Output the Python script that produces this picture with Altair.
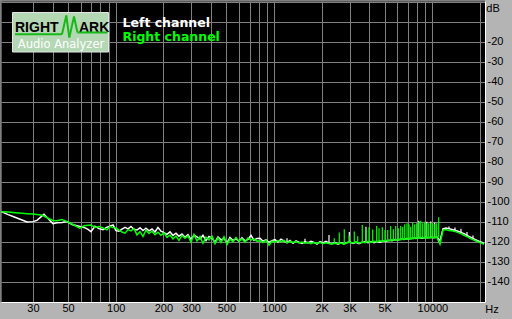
import altair as alt
import pandas as pd

# ---------------- data ----------------
freq_hz = [
    18.9, 20.9, 23.1, 25.6, 27.5, 30.0, 31.8, 33.7, 35.2, 37.3,
    40.1, 42.5, 45.7, 49.2, 52.9, 56.1, 59.4, 63.0, 66.8, 69.7,
    73.9, 78.3, 83.1, 88.0, 91.9, 96.1, 100.3, 104.8, 109.5, 114.4,
    119.5, 124.8, 130.4, 136.2, 142.3, 148.6, 155.2, 162.2, 169.4, 176.9,
    184.8, 193.1, 201.7, 210.7, 220.1, 229.9, 240.1, 250.8, 262.0, 273.7,
    285.9, 298.7, 312.0, 325.9, 340.5, 355.6, 371.5, 388.1, 405.4, 423.5,
    442.3, 462.1, 482.7, 504.2, 526.7, 550.2, 574.7, 600.3, 627.1, 655.1,
    684.3, 714.8, 746.7, 780.0, 814.8, 851.1, 889.1, 928.7, 970.2, 1013,
    1059, 1106, 1155, 1207, 1261, 1317, 1376, 1437, 1501, 1568,
    1638, 1711, 1787, 1867, 1950, 2037, 2128, 2223, 2322, 2426,
    2534, 2647, 2765, 2888, 3017, 3151, 3292, 3439, 3592, 3752,
    3920, 4095, 4277, 4468, 4667, 4875, 5093, 5320, 5557, 5805,
    6064, 6334, 6617, 6912, 7220, 7542, 7879, 8230, 8597, 8980,
    9381, 9799, 10236, 10693, 11169, 11668, 12188, 12732, 13299, 13893,
    14512, 15160, 15836, 16542, 17280, 18050, 18855, 19696, 20575, 21177,
]

left_db = [
    -105.0, -106.5, -107.8, -109.2, -110.2, -110.0, -109.4, -107.6, -106.3, -108.4,
    -111.0, -110.6, -110.4, -110.0, -111.4, -111.9, -112.4, -112.9, -113.9, -115.0,
    -112.3, -113.5, -114.0, -112.8, -112.3, -111.7, -114.5, -114.8, -113.8, -112.9,
    -113.6, -112.4, -113.9, -114.2, -113.1, -114.5, -113.3, -114.6, -113.7, -115.2,
    -112.9, -114.8, -115.5, -116.4, -115.1, -116.9, -115.8, -117.3, -116.2, -117.8,
    -116.5, -118.9, -116.8, -117.6, -118.7, -116.9, -119.5, -117.4, -118.2, -120.3,
    -117.7, -119.1, -118.3, -120.6, -117.9, -119.4, -118.6, -119.8, -118.1, -119.6,
    -118.9, -116.9, -119.3, -118.4, -118.3, -119.8, -119.1, -120.4, -119.5, -119.0,
    -120.2, -118.8, -119.7, -120.5, -119.4, -120.8, -119.6, -120.3, -120.9, -120.1,
    -120.6, -119.8, -120.4, -121.2, -120.0, -120.7, -119.9, -120.8, -121.0, -120.5,
    -121.3, -120.6, -121.1, -120.4, -120.2, -120.9, -120.3, -121.0, -120.4, -120.1,
    -120.6, -120.0, -120.5, -119.9, -120.3, -119.7, -119.9, -119.3, -119.6, -119.0,
    -119.2, -118.7, -118.9, -118.4, -118.6, -118.2, -118.4, -118.0, -118.3, -117.9,
    -118.1, -117.8, -118.0, -117.7, -119.5, -113.6, -113.2, -113.5, -113.9, -114.3,
    -114.8, -115.4, -116.0, -116.9, -117.6, -118.4, -119.1, -119.8, -120.4, -121.0,
]

right_db = [
    -105.0, -105.2, -105.5, -105.8, -106.0, -106.2, -106.4, -106.7, -107.2, -108.3,
    -109.4, -109.6, -108.9, -110.0, -111.2, -112.3, -113.3, -112.1, -111.8, -111.7,
    -112.9, -112.4, -113.2, -114.1, -112.5, -113.0, -113.2, -114.3, -115.2, -115.8,
    -114.0, -114.6, -113.5, -116.6, -115.0, -117.4, -114.3, -115.9, -114.8, -116.5,
    -115.3, -116.8, -115.6, -117.9, -116.7, -118.6, -117.2, -119.4, -116.9, -118.3,
    -117.1, -120.2, -116.4, -119.7, -117.5, -120.8, -117.8, -119.1, -117.3, -121.0,
    -118.1, -120.4, -117.6, -121.5, -118.7, -120.1, -117.9, -119.9, -118.6, -120.3,
    -118.2, -119.2, -118.7, -119.8, -119.6, -120.5, -119.3, -121.8, -119.8, -120.3,
    -119.5, -120.1, -119.4, -120.6, -119.9, -120.4, -120.0, -120.7, -120.2, -120.8,
    -120.3, -121.0, -120.5, -120.9, -120.4, -121.1, -120.6, -120.9, -121.2, -120.8,
    -121.0, -120.7, -121.3, -120.6, -120.3, -120.7, -120.1, -120.8, -120.2, -120.5,
    -119.9, -120.4, -119.8, -120.1, -119.6, -119.9, -119.4, -119.6, -119.1, -119.3,
    -118.9, -119.0, -118.6, -118.8, -118.4, -118.5, -118.1, -118.3, -118.0, -118.2,
    -117.9, -118.1, -117.8, -118.0, -121.3, -114.3, -114.0, -114.4, -114.6, -114.9,
    -115.5, -116.0, -116.8, -117.5, -118.3, -119.0, -119.7, -120.3, -120.9, -121.4,
]

# narrow spectral spikes (green = right channel)
right_spike_hz = [
    2402, 2582, 2777, 2987, 3212, 3375, 3609, 3807, 3978, 4197,
    4449, 4602, 4827, 5019, 5223, 5454, 5667, 5868, 6093, 6309,
    6495, 6687, 6915, 7119, 7296, 7512, 7734, 7962, 8199, 8442,
    8688, 8943, 9210, 9480, 9759, 10047, 10344, 10647, 10962,
]
right_spike_top = [
    -118.3, -115.5, -113.8, -117.0, -115.0, -117.3, -111.7, -113.8, -112.8, -114.0,
    -112.2, -113.3, -112.8, -114.2, -114.2, -112.2, -113.8, -112.2, -113.3, -112.2,
    -112.5, -111.3, -110.8, -111.3, -112.5, -110.5, -111.3, -110.8, -110.0, -109.5,
    -110.8, -110.0, -110.8, -110.8, -110.5, -110.8, -111.3, -110.8, -107.8,
]
right_spike_base = [
    -120.8, -121.0, -121.3, -120.6, -120.7, -120.5, -120.2, -120.5, -120.0, -120.3,
    -120.1, -119.8, -119.9, -119.6, -119.5, -119.3, -119.2, -119.3, -119.0, -118.9,
    -118.8, -118.7, -118.7, -118.5, -118.4, -118.4, -118.2, -118.2, -118.2, -118.1,
    -118.0, -118.1, -117.9, -117.9, -118.0, -117.9, -117.8, -117.9, -118.0,
]

# white (left channel) spike tips
left_spike_hz = [1207, 1568, 2223, 2987, 3807, 8199, 9210, 9759, 10344,
                 12732, 13893, 15160, 16542, 18050]
left_spike_top = [-118.3, -118.6, -116.7, -115.2, -112.6, -109.6, -110.0, -109.9, -110.4,
                  -112.4, -112.9, -113.6, -115.2, -117.0]
left_spike_base = [-120.5, -120.5, -120.8, -120.5, -120.5, -118.2, -117.9, -118.0, -117.8,
                   -113.5, -114.3, -115.4, -116.9, -118.4]

grid_hz = [30, 40, 50, 60, 70, 80, 90, 100, 200, 300, 400, 500, 600, 700, 800, 900,
           1000, 2000, 3000, 4000, 5000, 6000, 7000, 8000, 9000, 10000, 20000]
grid_db = [0, -10, -20, -30, -40, -50, -60, -70, -80, -90, -100, -110, -120, -130, -140]

legend_names = ["Left channel", "Right channel"]

# ---------------- styling ----------------
BG = "#b4b4b4"
GRID = "#808080"
GREEN = "#00ff00"

x_scale = alt.Scale(type="log", domain=[18.84, 21500], nice=False)
y_scale = alt.Scale(domain=[-150.2, 0.35], nice=False, zero=False)

x_axis = alt.Axis(
    values=grid_hz, format="d",
    labelExpr="datum.value == 2000 ? '2K' : datum.value == 3000 ? '3K' : datum.value == 5000 ? '5K' : "
              "(indexof([30, 50, 100, 200, 300, 500, 1000, 10000], datum.value) >= 0 ? '' + datum.value : '')",
    grid=True, gridColor=GRID, gridOpacity=1, gridWidth=1,
    ticks=False, tickSize=0, domain=True, domainColor="white", domainWidth=1,
    labelColor="black", labelFont="Liberation Sans", labelFontSize=11,
    labelBaseline="middle", labelPadding=6.5, labelFlush=False, labelOverlap=False,
    title="Hz", titleFont="Liberation Sans", titleFontSize=11, titleFontWeight="normal",
    titleColor="black", titleX=490.5, titleY=7, titleAlign="center", titleBaseline="middle",
)
y_axis = alt.Axis(
    orient="right", values=grid_db,
    labelExpr="datum.value <= -20 ? '-' + (-datum.value) : ''",
    grid=True, gridColor=GRID, gridOpacity=1, gridWidth=1,
    ticks=False, tickSize=0, domain=True, domainColor="white", domainWidth=1,
    labelColor="black", labelFont="Liberation Sans", labelFontSize=11,
    labelPadding=2, labelFlush=False, labelOverlap=False, labelAlign="left",
    title="dB", titleFont="Liberation Sans", titleFontSize=11, titleFontWeight="normal",
    titleColor="black", titleAngle=0, titleX=7.5, titleY=7, titleAlign="center",
    titleBaseline="middle",
)

df = pd.DataFrame({"freq": freq_hz, "left": left_db, "right": right_db})
rs = pd.DataFrame({"freq": right_spike_hz, "top": right_spike_top, "base": right_spike_base})
ls = pd.DataFrame({"freq": left_spike_hz, "top": left_spike_top, "base": left_spike_base})


def xenc():
    return alt.X("freq:Q", scale=x_scale, axis=x_axis)


def yenc(field):
    return alt.Y(field + ":Q", scale=y_scale, axis=y_axis)


left_line = alt.Chart(df).mark_line(color="white", strokeWidth=1.5, clip=True).encode(
    x=xenc(), y=yenc("left"))
left_spikes = alt.Chart(ls).mark_rule(color="white", strokeWidth=1.2, clip=True).encode(
    x=xenc(), y=yenc("top"), y2="base:Q")
right_line = alt.Chart(df).mark_line(color=GREEN, strokeWidth=1.5, clip=True).encode(
    x=xenc(), y=yenc("right"))
right_spikes = alt.Chart(rs).mark_rule(color=GREEN, strokeWidth=1.2, clip=True).encode(
    x=xenc(), y=yenc("top"), y2="base:Q")

# ---------------- decorations (logo, legend, border) ----------------
dummy = pd.DataFrame({"d": [0]})
O = 1  # plot origin offset (padding)


def seg(x1, y1, x2, y2, color, w):
    return alt.Chart(dummy).mark_rule(color=color, strokeWidth=w).encode(
        x=alt.value(x1 - O), y=alt.value(y1 - O), x2=alt.value(x2 - O), y2=alt.value(y2 - O))


def txt(s, x, y, color, size, weight, font, align="left"):
    return alt.Chart(dummy).mark_text(
        text=s, color=color, fontSize=size, fontWeight=weight, font=font,
        align=align, baseline="alphabetic").encode(x=alt.value(x - O), y=alt.value(y - O))


border_l = seg(0.5, 0, 0.5, 302, GRID, 1)
border_t = seg(0, 0.5, 485, 0.5, GRID, 1)

logo_box = alt.Chart(dummy).mark_rect(fill="#b4d8b4", stroke="#e4e4e4", strokeWidth=1).encode(
    x=alt.value(12.5 - O), x2=alt.value(108.5 - O), y=alt.value(12.5 - O), y2=alt.value(52 - O))
logo_r = txt("RIGHT", 15, 31.5, "black", 14, "bold", "Liberation Sans")
logo_a = txt("ARK", 79, 31.5, "black", 14, "bold", "Liberation Sans")
LG = "#18b818"
pulse = [
    seg(15, 34.3, 62, 34.3, LG, 2),
    seg(62, 34.3, 66.3, 15.5, LG, 2),
    seg(66.3, 15.5, 69.3, 37.5, LG, 2),
    seg(69.3, 37.5, 74, 16.5, LG, 2),
    seg(74, 16.5, 77.5, 32.5, LG, 2),
    seg(77.5, 32.5, 107.5, 32.5, LG, 2),
]
logo_sub = txt("Audio Analyzer", 61, 48.3, "white", 11.5, "normal", "DejaVu Sans", align="center")

leg_l = txt(legend_names[0], 122.5, 26.5, "white", 12.5, "bold", "DejaVu Sans")
leg_r = txt(legend_names[1], 122.5, 41, GREEN, 12.5, "bold", "DejaVu Sans")

chart = alt.layer(
    left_line, left_spikes, right_line, right_spikes,
    border_l, border_t, logo_box, logo_r, logo_a, *pulse, logo_sub, leg_l, leg_r,
).properties(
    width=484, height=301,
    padding={"left": 1, "top": 1, "right": 27, "bottom": 17},
    autosize="none",
    background=BG,
).configure_view(fill="black", stroke="transparent")

chart.save("out.html", embed_options={"renderer": "svg", "actions": False})
